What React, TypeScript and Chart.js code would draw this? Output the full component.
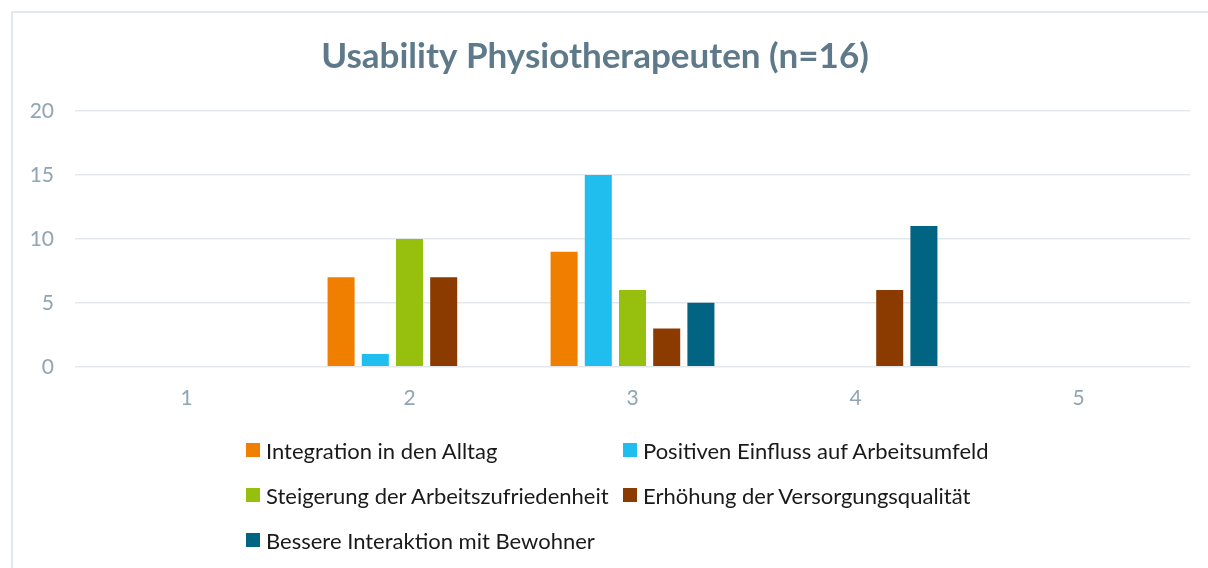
import React, { useEffect, useRef } from "react";
import { Chart, registerables } from "chart.js";

Chart.register(...registerables);

const categories = ["1", "2", "3", "4", "5"];
const seriesNames = [
  "Integration in den Alltag",
  "Positiven Einfluss auf Arbeitsumfeld",
  "Steigerung der Arbeitszufriedenheit",
  "Erhöhung der Versorgungsqualität",
  "Bessere Interaktion mit Bewohner",
];
const integration = [0, 7, 9, 0, 0];
const positiven = [0, 1, 15, 0, 0];
const steigerung = [0, 10, 6, 0, 0];
const erhoehung = [0, 7, 3, 6, 0];
const bessere = [0, 0, 5, 11, 0];
const seriesValues = [integration, positiven, steigerung, erhoehung, bessere];
const colors = ["#F07F00", "#1FBEEF", "#97BF0D", "#8B3A00", "#006482"];
const yTicks = [0, 5, 10, 15, 20];

const FONT = "Lato, 'Open Sans', sans-serif";

export default function App() {
  const ref = useRef<HTMLCanvasElement | null>(null);
  useEffect(() => {
    document.body.style.margin = "0";
    const ctx = ref.current!;
    const chart = new Chart(ctx, {
      type: "bar",
      data: {
        labels: categories,
        datasets: seriesNames.map((name, i) => ({
          label: name,
          data: seriesValues[i],
          backgroundColor: colors[i],
          borderWidth: 0,
          categoryPercentage: 0.767,
          barPercentage: 0.79,
        })),
      },
      options: {
        animation: false,
        responsive: false,
        maintainAspectRatio: false,
        layout: { padding: { left: 0, right: 18, top: 0, bottom: 146 } },
        plugins: {
          legend: { display: false },
          tooltip: { enabled: false },
          title: {
            display: true,
            text: "Usability Physiotherapeuten (n=16)",
            color: "#5E7A8A",
            font: { family: FONT, size: 35, weight: "bold", lineHeight: 1.2 },
            padding: { top: 36, bottom: 33 },
          },
        },
        scales: {
          x: {
            grid: { display: false },
            border: { display: false },
            ticks: {
              color: "#8FA5B3",
              font: { family: FONT, size: 21 },
              padding: 11,
            },
          },
          y: {
            min: 0,
            max: 20,
            afterFit: (s: any) => {
              s.width = 75;
            },
            afterBuildTicks: (s: any) => {
              s.ticks = yTicks.map((v) => ({ value: v }));
            },
            grid: { color: "#E3E8EC", lineWidth: 1.5, drawTicks: false },
            border: { display: false },
            ticks: {
              color: "#8FA5B3",
              font: { family: FONT, size: 21 },
              padding: 21,
            },
          },
        },
      },
    });
    return () => chart.destroy();
  }, []);

  const legendRows = [
    [0, 1],
    [2, 3],
    [4],
  ];

  return (
    <div style={{ position: "relative", width: 1208, height: 568, overflow: "hidden", background: "#fff" }}>
      <div
        style={{
          position: "absolute",
          left: 11,
          top: 11,
          width: 1300,
          height: 700,
          borderLeft: "2px solid #E3E8EC",
          borderTop: "2px solid #E3E8EC",
        }}
      />
      <canvas ref={ref} width={1208} height={568} style={{ position: "absolute", left: 0, top: 0 }} />
      {legendRows.map((row, ri) => (
        <div key={ri} style={{ position: "absolute", top: 436 + ri * 45, left: 246, height: 28 }}>
          {row.map((idx, ci) => (
            <div
              key={idx}
              style={{
                position: "absolute",
                left: ci * 377,
                top: 0,
                display: "flex",
                alignItems: "center",
                whiteSpace: "nowrap",
                height: 28,
                fontFamily: FONT,
                fontSize: 22,
                color: "#1A1A1A",
              }}
            >
              <span style={{ display: "inline-block", width: 14, height: 14, background: colors[idx], marginRight: 6 }} />
              <span>{seriesNames[idx]}</span>
            </div>
          ))}
        </div>
      ))}
    </div>
  );
}
